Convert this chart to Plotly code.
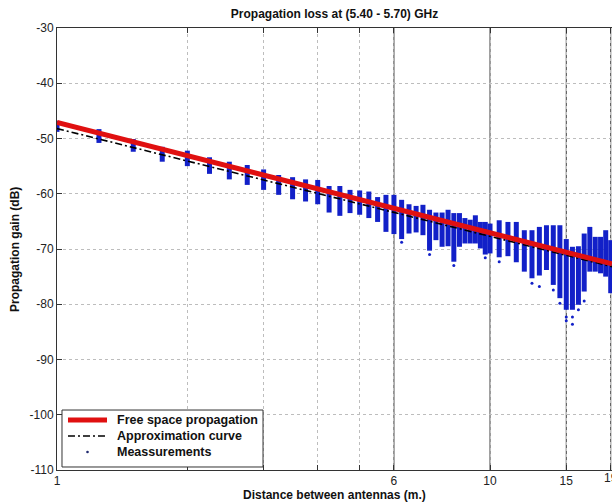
import plotly.graph_objects as go

# ---- data ----
distance_m = [1.0, 1.25, 1.5, 1.75, 2.0, 2.25, 2.5, 2.75, 3.0, 3.25, 3.5, 3.75,
              4.0, 4.25, 4.5, 4.75, 5.0, 5.25, 5.5, 5.75, 6.0, 6.25, 6.5, 6.75,
              7.0, 7.25, 7.5, 7.75, 8.0, 8.25, 8.5, 8.75, 9.0, 9.25, 9.5, 9.75,
              10.0, 10.5, 11.0, 11.5, 12.0, 12.5, 13.0, 13.5, 14.0, 14.5, 15.0,
              15.5, 16.0, 16.5, 17.0, 17.5, 18.0, 18.5, 19.0]
meas_top_db = [-46.8, -48.3, -50.1, -51.5, -52.2, -53.4, -54.2, -54.8, -55.6, -56.6, -57.0, -57.4,
               -57.5, -58.6, -58.6, -59.3, -59.4, -59.6, -60.6, -60.2, -60.2, -61.1, -61.9, -62.2,
               -62.0, -62.9, -63.4, -63.4, -62.9, -63.5, -63.5, -64.4, -64.7, -63.9, -65.1, -65.1,
               -65.4, -64.8, -65.1, -65.1, -66.6, -66.6, -66.0, -65.7, -65.7, -65.7, -68.2,
               -69.6, -69.5, -67.2, -66.0, -67.8, -67.8, -66.6, -68.4]
meas_bottom_db = [-48.8, -50.8, -52.4, -54.2, -55.0, -56.4, -57.4, -58.4, -59.3, -60.2, -61.0, -61.4,
                  -61.9, -63.4, -64.0, -63.5, -63.8, -64.4, -65.1, -66.9, -67.3, -68.2, -67.2, -67.0,
                  -67.5, -70.3, -68.4, -69.6, -69.5, -72.3, -69.6, -69.0, -69.0, -69.0, -69.9, -71.0,
                  -70.8, -71.5, -71.3, -72.4, -74.1, -75.3, -74.8, -73.8, -76.5, -78.9, -81.0,
                  -81.0, -80.1, -77.7, -74.1, -74.1, -74.4, -75.0, -78.0]
outlier_distance_m = [6.25, 7.25, 8.25, 9.75, 10.5, 12.5, 13.0, 14.0, 14.5, 15.0, 15.0, 15.5, 15.5, 16.0, 16.5]
outlier_gain_db = [-68.8, -71.0, -73.0, -71.6, -72.3, -76.2, -76.8, -77.4, -79.8, -82.3, -83.0, -82.3, -83.6, -81.0, -79.4]

fs_distance_m = [1.0, 19.13]
fs_gain_db = [-47.1, -72.7]
approx_distance_m = [1.0, 2.0, 4.0, 8.0, 19.13]
approx_gain_db = [-48.2, -54.1, -60.0, -65.9, -73.2]

xtick_vals = [1, 2, 3, 4, 5, 6, 10, 15, 19]
xtick_text = ['1', '', '', '', '', '6', '10', '15', '']
edge_tick_val, edge_tick_text = 19, '19'   # last tick label, cut by the right edge
solid_grid_x = [6, 10, 15, 19]
y_tick_vals = [-110, -100, -90, -80, -70, -60, -50, -40, -30]
y_tick_text = ['-110', '-100', '-90', '-80', '-70', '-60', '-50', '-40', '-30']

title_text = "Propagation loss at (5.40 - 5.70) GHz"
x_label = "Distance between antennas (m.)"
y_label = "Propagation gain (dB)"
legend_names = ["Free space propagation", "Approximation curve", "Meassurements"]

FONT = "Liberation Sans, Arial, sans-serif"
BLUE = "#1220c8"
RED = "#e01010"
AXC = "#333333"
APPROX_DASH = "7px,3px,2px,3px"

# vertical strips of measurements
seg_x, seg_y = [], []
for d, t, b in zip(distance_m, meas_top_db, meas_bottom_db):
    seg_x += [d, d, None]
    seg_y += [t, b, None]

fig = go.Figure()
fig.add_trace(go.Scatter(x=seg_x, y=seg_y, mode="lines",
                         line=dict(color=BLUE, width=5), showlegend=False,
                         hoverinfo="skip", name=legend_names[2]))
fig.add_trace(go.Scatter(x=outlier_distance_m, y=outlier_gain_db, mode="markers",
                         marker=dict(color=BLUE, size=3), name=legend_names[2],
                         showlegend=False))
fig.add_trace(go.Scatter(x=approx_distance_m, y=approx_gain_db, mode="lines",
                         line=dict(color="black", width=1.6, dash=APPROX_DASH),
                         name=legend_names[1], showlegend=False))
fig.add_trace(go.Scatter(x=fs_distance_m, y=fs_gain_db, mode="lines",
                         line=dict(color=RED, width=5),
                         name=legend_names[0], showlegend=False))

for gx in solid_grid_x:
    fig.add_shape(type="line", xref="x", yref="paper", x0=gx, x1=gx, y0=0, y1=1,
                  line=dict(color="#3a3a3a", width=1), layer="below")

# ---- legend box (MATLAB-style, drawn in paper coordinates) ----
lg_x0, lg_x1, lg_y0, lg_y1 = 0.009, 0.3712, 0.0068, 0.1357
row_y = [0.1131, 0.0769, 0.0407]
smp_x0, smp_x1, txt_x = 0.0198, 0.0901, 0.1045
fig.add_shape(type="rect", xref="paper", yref="paper", x0=lg_x0, x1=lg_x1, y0=lg_y0, y1=lg_y1,
              line=dict(color=AXC, width=1), fillcolor="white", layer="above")
fig.add_shape(type="line", xref="paper", yref="paper", x0=smp_x0, x1=smp_x1,
              y0=row_y[0], y1=row_y[0], line=dict(color=RED, width=5), layer="above")
fig.add_shape(type="line", xref="paper", yref="paper", x0=smp_x0, x1=smp_x1,
              y0=row_y[1], y1=row_y[1], line=dict(color="black", width=1.6, dash=APPROX_DASH),
              layer="above")
fig.add_shape(type="circle", xref="paper", yref="paper", xsizemode="pixel", ysizemode="pixel",
              xanchor=(smp_x0 + smp_x1) / 2, yanchor=row_y[2], x0=-1.3, x1=1.3, y0=-1.3, y1=1.3,
              fillcolor="#202a70", line=dict(width=0), layer="above")

annotations = [
    dict(text=x_label, xref="paper", yref="paper", x=0.5, y=-0.056,
         xanchor="center", yanchor="middle", showarrow=False,
         font=dict(family=FONT, size=12, weight="bold", color="#111111")),
    dict(text=y_label, xref="paper", yref="paper", x=-0.0757, y=0.5,
         xanchor="center", yanchor="middle", textangle=-90, showarrow=False,
         font=dict(family=FONT, size=12, weight="bold", color="#111111")),
    dict(text=edge_tick_text, xref="x", yref="paper", x=1.2788, y=-0.018,
         xanchor="center", yanchor="middle", showarrow=False,
         font=dict(family=FONT, size=12, color="#222222")),
]
for name, ry in zip(legend_names, row_y):
    annotations.append(dict(text=name, xref="paper", yref="paper", x=txt_x, y=ry,
                            xanchor="left", yanchor="middle", showarrow=False,
                            font=dict(family=FONT, size=12.5, weight="bold", color="#111111")))

axis_common = dict(showline=True, linecolor=AXC, linewidth=1, ticks="inside",
                   ticklen=5, tickcolor=AXC, showgrid=True, gridcolor="#bdbdbd",
                   griddash="dot", gridwidth=1, zeroline=False,
                   tickfont=dict(family=FONT, size=12, color="#222222"))

fig.update_layout(
    width=612, height=503,
    margin=dict(l=57, r=0, t=28, b=33),
    paper_bgcolor="white", plot_bgcolor="white",
    font=dict(family=FONT, color="#111111"),
    showlegend=False,
    title=dict(text=title_text, x=0.5, xref="paper", xanchor="center",
               y=1 - 14 / 503, yref="container", yanchor="middle",
               font=dict(family=FONT, size=12, weight="bold", color="#111111")),
    xaxis=dict(type="log", range=[0, 1.2817], tickvals=xtick_vals, ticktext=xtick_text,
               mirror="ticks", **axis_common),
    yaxis=dict(range=[-110, -30], tickvals=y_tick_vals, ticktext=y_tick_text,
               mirror=False, **axis_common),
    annotations=annotations,
)

fig.write_html("out.html", config={"displayModeBar": False},
               post_script="document.body.style.margin='0';document.body.style.overflow='hidden';")
